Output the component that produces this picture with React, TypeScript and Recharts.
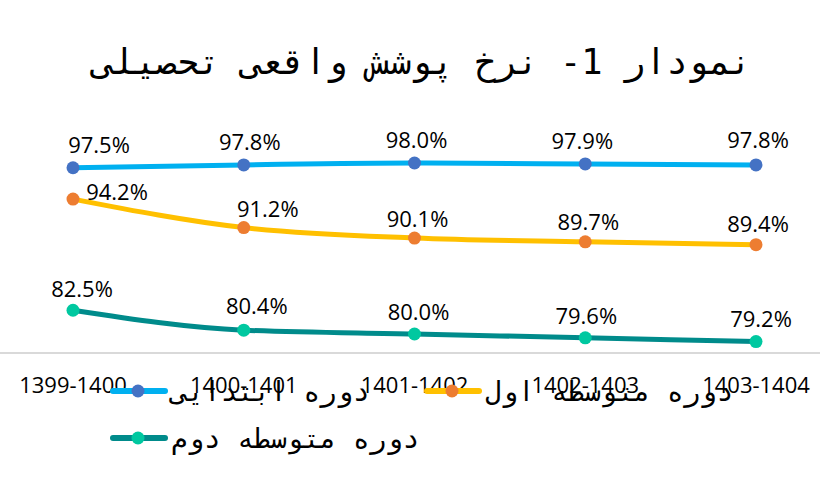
import { LineChart, Line, XAxis, YAxis, LabelList } from 'recharts';

const periods = ['1399-1400', '1400-1401', '1401-1402', '1402-1403', '1403-1404'];
const primary = [97.5, 97.8, 98.0, 97.9, 97.8];
const lowerSecondary = [94.2, 91.2, 90.1, 89.7, 89.4];
const upperSecondary = [82.5, 80.4, 80.0, 79.6, 79.2];
const seriesNames = ['دوره ابتدایی', 'دوره متوسطه اول', 'دوره متوسطه دوم'];
const chartTitle = 'نمودار 1- نرخ پوشش واقعی تحصیلی';

const data = periods.map((period, i) => ({
  period,
  primary: primary[i],
  lowerSecondary: lowerSecondary[i],
  upperSecondary: upperSecondary[i],
}));

// label nudges (dx, dy to baseline)
const nudges: Record<string, [number, number][]> = {
  primary: [[26, -15], [6, -15], [2, -15], [-3, -15], [2, -17]],
  lowerSecondary: [[44, 1], [24, -11], [3, -11], [3, -12], [2, -13]],
  upperSecondary: [[9, -13], [13, -16], [4, -14], [1, -14], [5, -15]],
};

const series = [
  { key: 'primary', name: seriesNames[0], line: '#00B0F0', dot: '#4472C4' },
  { key: 'lowerSecondary', name: seriesNames[1], line: '#FFC000', dot: '#ED7D31' },
  { key: 'upperSecondary', name: seriesNames[2], line: '#008B8B', dot: '#00C8A0' },
];

const mono = '"DejaVu Sans Mono", monospace';
const sans = '"Open Sans", sans-serif';

function makeLabel(key: string) {
  return (props: any) => {
    const { x, y, value, index } = props;
    const [dx, dy] = nudges[key][index] || [0, -15];
    return (
      <text x={x + dx} y={y + dy} textAnchor="middle" fontFamily={sans} fontSize={22} fill="#000">
        {Number(value).toFixed(1)}%
      </text>
    );
  };
}

function PeriodTick(props: any) {
  const { x, y, payload } = props;
  return (
    <text x={x} y={y + 40} textAnchor="middle" fontFamily={sans} fontSize={22} fill="#000">
      {payload.value}
    </text>
  );
}

function LegendItem({ name, line, dot }: { name: string; line: string; dot: string }) {
  return (
    <div style={{ display: 'flex', alignItems: 'center', height: 30 }}>
      <svg width={62} height={20} style={{ flex: 'none' }}>
        <line x1={4} y1={10} x2={56} y2={10} stroke={line} strokeWidth={6} strokeLinecap="round" />
        <circle cx={29} cy={10} r={6.5} fill={dot} />
      </svg>
      <span dir="rtl" style={{ fontFamily: mono, fontSize: 27.5, whiteSpace: 'pre', color: '#000' }}>
        {name}
      </span>
    </div>
  );
}

export default function App() {
  return (
    <div style={{ position: 'relative', width: 820, height: 478, background: '#fff' }}>
      <style>{'body{margin:0}'}</style>
      <LineChart
        width={820}
        height={478}
        data={data}
        margin={{ top: 144, right: 0, bottom: 95, left: 0 }}
      >
        <XAxis
          dataKey="period"
          height={30}
          padding={{ left: 73, right: 64 }}
          axisLine={{ stroke: '#D9D9D9', strokeWidth: 2 }}
          tickLine={false}
          tickSize={0}
          tickMargin={0}
          interval={0}
          tick={<PeriodTick />}
        />
        <YAxis hide domain={[78, 100]} />
        {series.map((s) => (
          <Line
            key={s.key}
            type="monotone"
            dataKey={s.key}
            name={s.name}
            stroke={s.line}
            strokeWidth={5}
            dot={{ r: 6.5, fill: s.dot, stroke: s.dot, strokeWidth: 0 }}
            activeDot={false}
            isAnimationActive={false}
          >
            <LabelList dataKey={s.key} content={makeLabel(s.key)} />
          </Line>
        ))}
      </LineChart>
      <div
        dir="rtl"
        style={{
          position: 'absolute',
          left: 0,
          top: 40,
          width: 844,
          textAlign: 'center',
          fontFamily: mono,
          fontSize: 35.3,
          lineHeight: '44px',
          whiteSpace: 'pre',
          color: '#000',
        }}
      >
        {chartTitle}
      </div>
      <div style={{ position: 'absolute', left: 109, top: 376, width: 700 }}>
        <div style={{ display: 'flex' }}>
          <div style={{ width: 314 }}>
            <LegendItem {...series[0]} />
          </div>
          <LegendItem {...series[1]} />
        </div>
        <div style={{ marginTop: 17 }}>
          <LegendItem {...series[2]} />
        </div>
      </div>
    </div>
  );
}
